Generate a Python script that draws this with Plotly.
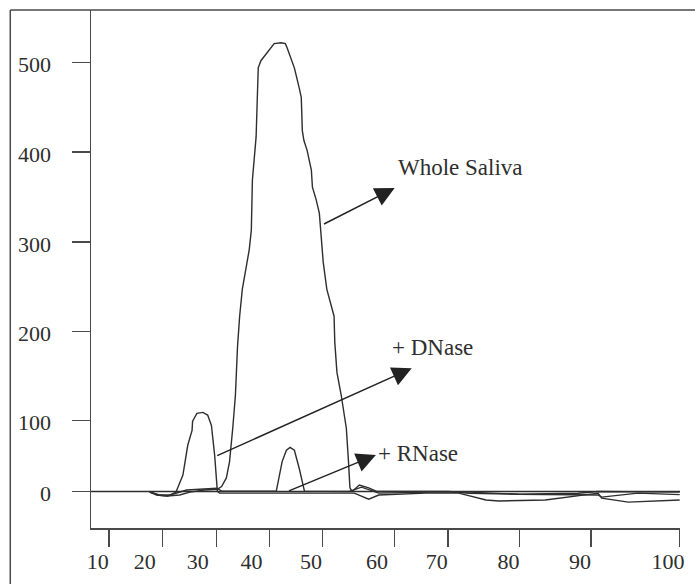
import numpy as np
import plotly.graph_objects as go

# ---------------- data ----------------
ws_x = [17.6, 18.9, 20.8, 23.2, 25.1, 27.8, 30.2, 31.0, 31.9, 32.5, 33.1, 33.6, 34.0, 34.4, 34.9,
        36.2, 36.6, 36.8, 37.5, 37.9, 38.4, 39.4, 40.0, 40.9, 42.2, 43.0, 43.3, 44.7, 45.6, 46.0,
        46.2, 46.5, 47.1, 47.9, 48.1, 48.8, 49.4, 49.8, 50.1, 50.6, 51.3, 51.6, 51.7, 52.0, 52.6,
        53.3, 53.6, 53.8, 54.1, 55.1, 56.4, 57.5, 70.1, 72.9, 79.9, 88.2, 90.8, 93.1, 100]
ws_y = [-1, -5, -6.5, -5, -1, 2, 3, 7, 19, 42, 89, 128, 183, 217, 247,
        291, 313, 369, 417, 494, 502, 510, 515, 521, 522, 521, 517, 494, 472, 461,
        424, 413, 402, 380, 361, 347, 332, 302, 277, 247, 224, 217, 188, 154, 128,
        89, 42, 5, 0, 9, 5, 0, 0, -2.5, -4, -2.5, 0, 0, -1]

dn_x = [17.6, 19.1, 21.0, 22.5, 23.8, 24.7, 25.5, 25.6, 26.4, 27.5, 28.4, 29.1, 29.7, 30.2, 30.6,
        40.9, 54.4, 56.4, 57.8, 65.8, 71.5, 75.3, 77.1, 83.6, 88.2, 90.8, 91.2, 94.2, 100]
dn_y = [0, -5, -6.5, -1, 23, 65, 86, 99, 108, 109, 106, 93, 51, 0.5, -2.4,
        -2.4, -2.4, -11, -5, -2.4, -2.4, -12, -13.5, -12, -6.5, -2.4, -9.5, -15, -12]

rn_x = [17.6, 19.5, 21.4, 24.5, 30.1, 31.0, 41.3, 42.4, 43.2, 43.9, 44.7, 45.6, 46.6, 53.7, 55.4,
        56.7, 57.8, 66.4, 72.9, 79.9, 90.8, 91.2, 95.3, 100]
rn_y = [-1, -5, -5, 2, 4.5, 0.5, 0.5, 42, 58, 62, 58, 33, 0.5, 0, 6,
        2, -2.4, -1, -1, -4, -5, -8, -2.4, -4.5]

x_tick_labels = [10, 20, 30, 40, 50, 60, 70, 80, 90, 100]
y_tick_labels = [0, 100, 200, 300, 400, 500]

# annotation arrows: (label, tail x, tail y, tip x, tip y, text x, text y)
arrow_labels = ["Whole Saliva", "+ DNase", "+ RNase"]
arrow_tail_x = [50.0, 29.9, 43.4]
arrow_tail_y = [319, 49.5, 0]
arrow_tip_x = [60.0, 63.2, 57.4]
arrow_tip_y = [360, 158.6, 51.3]
label_x = [60.3, 59.4, 57.4]
label_y = [383, 182, 54]

# ---------------- irregular axis scales (original figure is hand-scaled) ----------------
X_BREAKS = [18.0, 71.7, 125.7, 179.0, 232.3, 304.7, 358.3, 430.0, 501.7, 590.7]
X_LABEL_POS = [6.8, 54.0, 107.0, 161.0, 220.7, 287.0, 347.0, 419.0, 490.7, 579.0]
Y_BREAKS = [36.7, 108.0, 197.3, 287.3, 377.3, 467.3]
X_RANGE = [0, 591]
Y_RANGE = [0, 520]


def scale(v, dom, rng):
    v = np.asarray(v, dtype=float)
    out = np.interp(v, dom, rng)
    lo = v < dom[0]
    hi = v > dom[-1]
    out[lo] = rng[0] + (v[lo] - dom[0]) * (rng[1] - rng[0]) / (dom[1] - dom[0])
    out[hi] = rng[-1] + (v[hi] - dom[-1]) * (rng[-1] - rng[-2]) / (dom[-1] - dom[-2])
    return out


def sx(v):
    return scale(v, x_tick_labels, X_BREAKS)


def sy(v):
    return scale(v, y_tick_labels, Y_BREAKS)


INK = "#2e2e2e"
AXIS = "#4a4a4a"
FONT = "Liberation Serif"

fig = go.Figure()
for xs, ys, name in [(ws_x, ws_y, "Whole Saliva"), (dn_x, dn_y, "+ DNase"), (rn_x, rn_y, "+ RNase")]:
    fig.add_trace(go.Scatter(x=sx(xs), y=sy(ys), mode="lines", name=name,
                             line=dict(color=INK, width=1.4), showlegend=False,
                             hoverinfo="skip"))

# invisible trace to bind the label axis
fig.add_trace(go.Scatter(x=sx([x_tick_labels[0]]), y=sy([0]), xaxis="x2", mode="markers",
                         marker=dict(opacity=0), showlegend=False, hoverinfo="skip"))

# baseline at zero
fig.add_shape(type="line", xref="paper", yref="y", x0=0, x1=1,
              y0=float(sy([0])[0]), y1=float(sy([0])[0]),
              line=dict(color=INK, width=1.4))

# outer frame (left and top edges visible)
L, T, PW, PH = 91, 10, 591, 520
def px2paper_x(p):
    return (p - L) / PW
def px2paper_y(p):
    return (T + PH - p) / PH

fig.add_shape(type="line", xref="paper", yref="paper",
              x0=px2paper_x(10), x1=px2paper_x(10), y0=px2paper_y(10), y1=px2paper_y(590),
              line=dict(color=AXIS, width=1.5))
fig.add_shape(type="line", xref="paper", yref="paper",
              x0=px2paper_x(10), x1=px2paper_x(700), y0=px2paper_y(10), y1=px2paper_y(10),
              line=dict(color=AXIS, width=1.5))

for i, lab in enumerate(arrow_labels):
    tx, ty = float(sx([arrow_tip_x[i]])[0]), float(sy([arrow_tip_y[i]])[0])
    ax_, ay_ = float(sx([arrow_tail_x[i]])[0]), float(sy([arrow_tail_y[i]])[0])
    fig.add_annotation(x=tx, y=ty, ax=ax_, ay=ay_, xref="x", yref="y", axref="x", ayref="y",
                       text="", showarrow=True, arrowhead=2, arrowsize=2.6, arrowwidth=1.5,
                       arrowcolor="#222222", standoff=0, startstandoff=0)
    fig.add_annotation(x=float(sx([label_x[i]])[0]), y=float(sy([label_y[i]])[0]),
                       xref="x", yref="y", text=lab, showarrow=False, xanchor="left",
                       yanchor="middle", font=dict(family=FONT, size=23, color=INK))

fig.update_layout(
    width=695, height=584,
    margin=dict(l=L, r=695 - L - PW, t=T, b=584 - T - PH),
    paper_bgcolor="white", plot_bgcolor="white",
    showlegend=False,
    xaxis=dict(range=X_RANGE, tickvals=X_BREAKS, showticklabels=False, ticks="outside",
               ticklen=17, tickwidth=1.5, tickcolor=AXIS, showline=True, linecolor=AXIS,
               linewidth=1.5, showgrid=False, zeroline=False),
    xaxis2=dict(range=X_RANGE, overlaying="x", anchor="y", side="bottom",
                tickvals=X_LABEL_POS, ticktext=[str(v) for v in x_tick_labels],
                ticks="", showline=False, showgrid=False, zeroline=False,
                ticklabelstandoff=18, tickfont=dict(family=FONT, size=22, color=INK)),
    yaxis=dict(range=Y_RANGE, tickvals=Y_BREAKS, ticktext=[str(v) for v in y_tick_labels],
               ticks="outside", ticklen=18, tickwidth=1.5, tickcolor=AXIS, showline=True,
               linecolor=AXIS, linewidth=1.5, showgrid=False, zeroline=False,
               ticklabelstandoff=16, ticklabelshift=2,
               tickfont=dict(family=FONT, size=22, color=INK)),
)

fig.write_html("out.html", config={"displayModeBar": False, "staticPlot": True})

# remove the default browser body margin so the figure sits at the page origin
with open("out.html", "r", encoding="utf-8") as f:
    html = f.read()
html = html.replace("<head>", "<head><style>html,body{margin:0;padding:0;}</style>", 1)
with open("out.html", "w", encoding="utf-8") as f:
    f.write(html)
